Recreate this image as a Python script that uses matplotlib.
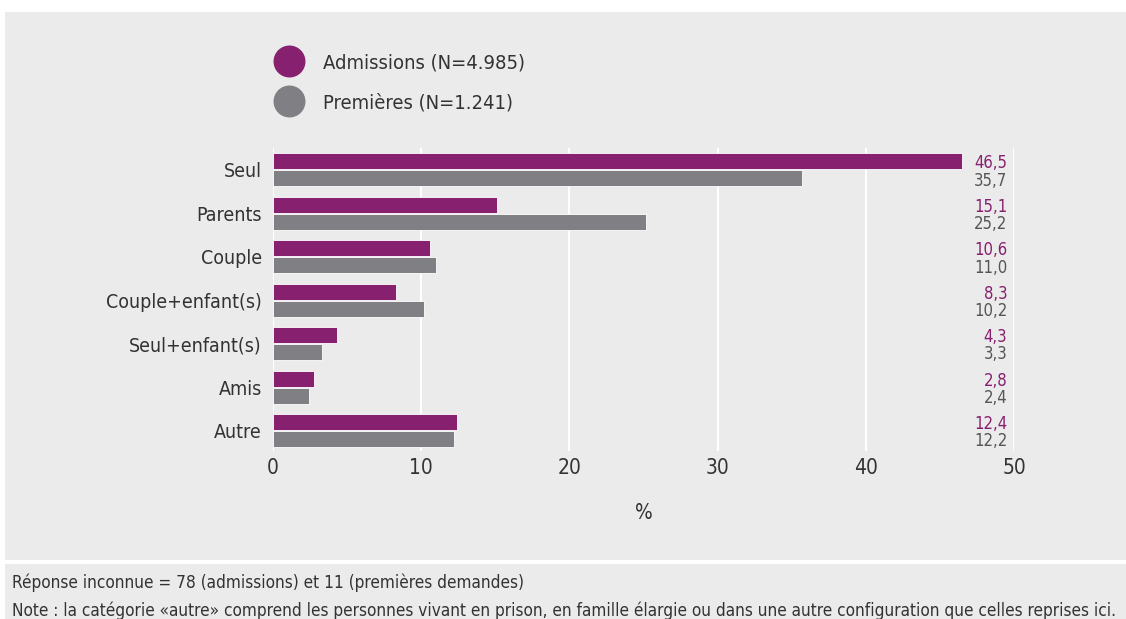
import matplotlib
matplotlib.use('Agg')
from matplotlib import pyplot
from matplotlib.patches import Rectangle
from matplotlib.lines import Line2D
import numpy

pyplot.rcParams['font.family'] = ['DejaVu Sans']
pyplot.rcParams['font.stretch'] = 'condensed'

categories = ['Seul', 'Parents', 'Couple', 'Couple+enfant(s)',
              'Seul+enfant(s)', 'Amis', 'Autre']
admissions = [46.5, 15.1, 10.6, 8.3, 4.3, 2.8, 12.4]
premieres = [35.7, 25.2, 11.0, 10.2, 3.3, 2.4, 12.2]
series_labels = ['Admissions (N=4.985)', 'Premières (N=1.241)']
x_ticks = [0, 10, 20, 30, 40, 50]
note_lines = ['Réponse inconnue = 78 (admissions) et 11 (premières demandes)',
              'Note : la catégorie «autre» comprend les personnes vivant en '
              'prison, en famille élargie ou dans une autre configuration que '
              'celles reprises ici.']

purple = '#86206f'
grey = '#808084'
panel = '#ebebeb'
text_color = '#333333'

fig = pyplot.figure(figsize=(11.26, 6.19), dpi=100)
fig.patch.set_facecolor('white')
fig.add_artist(Rectangle((5 / 1126, 1 - 560 / 619), 1, 548 / 619,
                         transform=fig.transFigure, facecolor=panel,
                         edgecolor='none', zorder=-10))
fig.add_artist(Rectangle((5 / 1126, 0), 1, 55 / 619,
                         transform=fig.transFigure, facecolor=panel,
                         edgecolor='none', zorder=-10))

ax = fig.add_axes([273 / 1126, 1 - 451 / 619, 741 / 1126, 303 / 619])
ax.set_facecolor('none')
for spine in ax.spines.values():
    spine.set_visible(False)

y = numpy.arange(len(categories))
h = 0.37
ax.barh(y - 0.195, admissions, height=h, color=purple, edgecolor='white',
        linewidth=0.6, zorder=3)
ax.barh(y + 0.195, premieres, height=h, color=grey, edgecolor='white',
        linewidth=0.6, zorder=3)

for yi, a, p in zip(y, admissions, premieres):
    ax.text(49.55, yi - 0.15, '{:.1f}'.format(a).replace('.', ','),
            ha='right', va='center', color=purple, fontsize=12)
    ax.text(49.55, yi + 0.25, '{:.1f}'.format(p).replace('.', ','),
            ha='right', va='center', color='#555555', fontsize=12)

ax.set_xlim(0, 50)
ax.set_ylim(len(categories) - 0.53, -0.5)
ax.set_xticks(x_ticks)
ax.set_yticks(y)
ax.set_yticklabels(categories)
ax.tick_params(axis='x', length=0, labelsize=15, colors=text_color, pad=5)
ax.tick_params(axis='y', length=0, labelsize=14, colors=text_color, pad=8)
ax.grid(True, axis='x', color='white', linewidth=1.5, zorder=0)
ax.set_axisbelow(True)
ax.set_xlabel('%', fontsize=15, color=text_color, labelpad=18)

handles = [Line2D([], [], marker='o', linestyle='none', markersize=22,
                  color=c) for c in (purple, grey)]
fig.legend(handles, series_labels, loc='upper left',
           bbox_to_anchor=(251 / 1126, 1 - 35 / 619), frameon=False,
           fontsize=14.5, labelspacing=1.05, handletextpad=0.7,
           labelcolor=text_color)

fig.text(12 / 1126, 1 - 583 / 619, note_lines[0], fontsize=12.3,
         color=text_color, va='center')
fig.text(12 / 1126, 1 - 611 / 619, note_lines[1], fontsize=12.3,
         color=text_color, va='center')

pyplot.savefig('out.png', dpi=100)
